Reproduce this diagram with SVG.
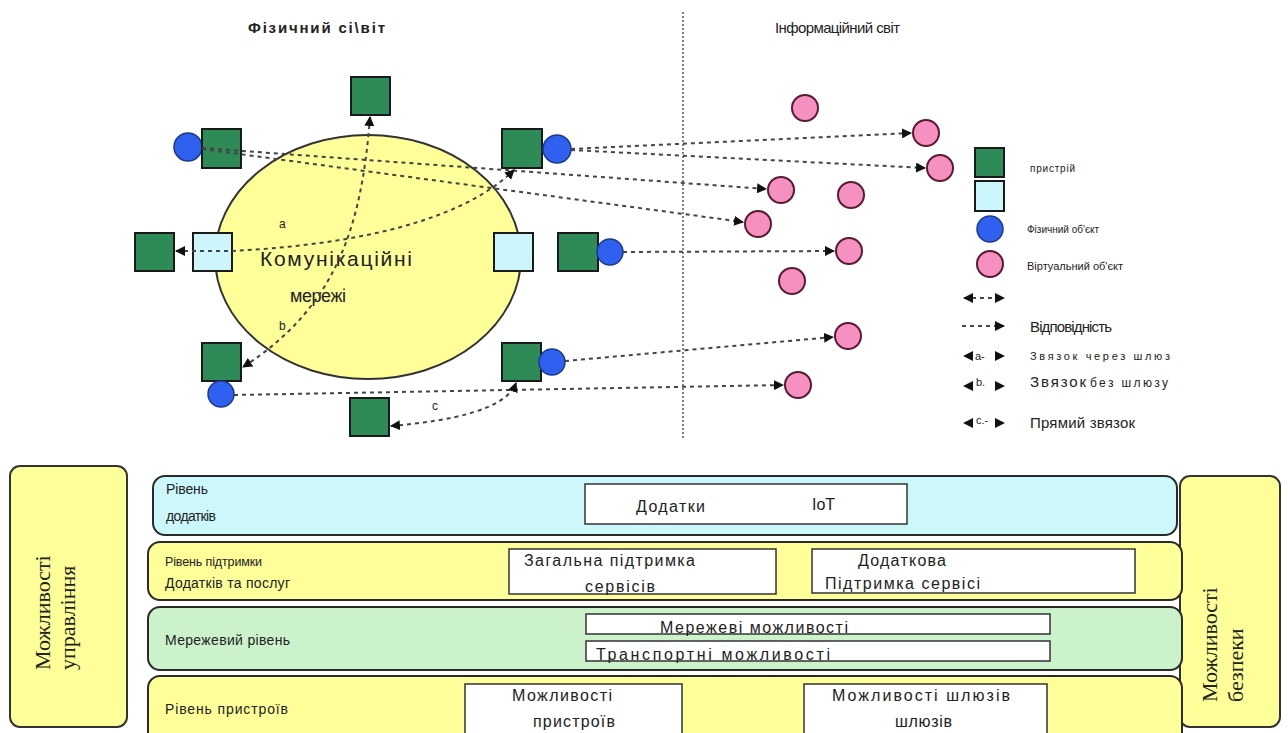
<svg xmlns="http://www.w3.org/2000/svg" width="1288" height="733" viewBox="0 0 1288 733">
<defs>
<marker id="ah" viewBox="0 0 10 10" refX="9" refY="5" markerWidth="10" markerHeight="10" markerUnits="userSpaceOnUse" orient="auto-start-reverse">
<path d="M0,0 L10,5 L0,10 Z" fill="#111"/>
</marker>
<style>
.dev{fill:#2e8b57;stroke:#1a1a1a;stroke-width:2}
.gw{fill:#ccf6fb;stroke:#1a1a1a;stroke-width:2}
.phy{fill:#3060f0;stroke:#1a3a90;stroke-width:1.5}
.vir{fill:#f690c0;stroke:#5a1a30;stroke-width:2}
.cn{fill:none;stroke:#444;stroke-width:2;stroke-dasharray:4 4}
.t{font-family:"Liberation Sans",Arial,sans-serif;fill:#222}
.s{font-family:"Liberation Serif","Times New Roman",serif;fill:#222}
.layer{stroke:#2a2a2a;stroke-width:2}
.box{fill:#fff;stroke:#333;stroke-width:1.5}
</style>
</defs>
<rect width="1288" height="733" fill="#fff"/>

<!-- titles -->
<text class="t" x="248" y="33" font-size="15" font-weight="bold" textLength="137">Фізичний сі\віт</text>
<text class="t" x="775" y="33" font-size="15" textLength="125">Інформаційний світ</text>
<line x1="683" y1="12" x2="683" y2="438" stroke="#555" stroke-width="1.5" stroke-dasharray="2 2"/>

<!-- network -->
<g id="network">
<ellipse cx="368" cy="257" rx="153" ry="122" fill="#ffff99" stroke="#333" stroke-width="2"/>
<text class="t" x="260" y="266" font-size="21" textLength="152">Комунікаційні</text>
<text class="t" x="290" y="302" font-size="18" textLength="56">мережі</text>
</g>

<!-- devices -->
<g id="dev-top"><rect class="dev" x="351" y="77" width="39" height="38"/></g>
<g id="dev-lt"><circle class="phy" cx="188" cy="147" r="14"/><rect class="dev" x="202" y="129" width="39" height="39"/></g>
<g id="dev-l"><rect class="dev" x="135" y="233" width="39" height="38"/></g>
<g id="gw-l"><rect class="gw" x="193" y="233" width="39" height="38"/></g>
<g id="gw-r"><rect class="gw" x="494" y="233" width="39" height="38"/></g>
<g id="dev-rt"><rect class="dev" x="502" y="129" width="40" height="39"/><circle class="phy" cx="557" cy="149" r="14"/></g>
<g id="dev-rm"><rect class="dev" x="558" y="233" width="40" height="38"/><circle class="phy" cx="610" cy="252" r="13"/></g>
<g id="dev-lb"><rect class="dev" x="202" y="343" width="39" height="38"/><circle class="phy" cx="221" cy="394" r="13"/></g>
<g id="dev-rb"><rect class="dev" x="502" y="343" width="39" height="38"/><circle class="phy" cx="552" cy="362" r="13"/></g>
<g id="dev-b"><rect class="dev" x="350" y="398" width="39" height="38"/></g>

<!-- virtual objects -->
<g id="virtual">
<circle class="vir" cx="805" cy="108" r="13"/>
<circle class="vir" cx="926" cy="133" r="13"/>
<circle class="vir" cx="940" cy="168" r="13"/>
<circle class="vir" cx="781" cy="190" r="13"/>
<circle class="vir" cx="851" cy="195" r="13"/>
<circle class="vir" cx="758" cy="224" r="13"/>
<circle class="vir" cx="849" cy="251" r="13"/>
<circle class="vir" cx="792" cy="281" r="13"/>
<circle class="vir" cx="848" cy="336" r="13"/>
<circle class="vir" cx="798" cy="385" r="13"/>
</g>

<!-- connectors -->
<g id="connectors">
<path class="cn" d="M202,148 L766,189" marker-end="url(#ah)"/>
<path class="cn" d="M202,149 L743,222" marker-end="url(#ah)"/>
<path class="cn" d="M571,149 L911,133" marker-end="url(#ah)"/>
<path class="cn" d="M571,150 L925,168" marker-end="url(#ah)"/>
<path class="cn" d="M623,252 L834,251" marker-end="url(#ah)"/>
<path class="cn" d="M565,361 L833,337" marker-end="url(#ah)"/>
<path class="cn" d="M234,395 L783,385" marker-end="url(#ah)"/>
<path class="cn" d="M176,251 L232,251 C 330,246 455,228 514,170" marker-start="url(#ah)" marker-end="url(#ah)"/>
<path class="cn" d="M370,117 C 362,220 340,305 243,367" marker-start="url(#ah)" marker-end="url(#ah)"/>
<path class="cn" d="M391,426 C 450,421 506,410 516,383" marker-start="url(#ah)" marker-end="url(#ah)"/>
<text class="t" x="279" y="228" font-size="12">a</text>
<text class="t" x="279" y="330" font-size="12">b</text>
<text class="t" x="432" y="410" font-size="12">c</text>
</g>

<!-- legend -->
<g id="legend">
<rect class="dev" x="975" y="148" width="29" height="29"/>
<rect class="gw" x="975" y="181" width="29" height="30"/>
<circle class="phy" cx="990" cy="229" r="13"/>
<circle class="vir" cx="990" cy="264" r="13"/>
<text class="t" x="1030" y="172" font-size="10" textLength="45">пристрій</text>
<text class="t" x="1027" y="233" font-size="10">Фізичний об'єкт</text>
<text class="t" x="1027" y="270" font-size="11">Віртуальний об'єкт</text>
<path class="cn" d="M964,298 L1004,298" stroke-width="1.5" stroke-dasharray="3 3" marker-start="url(#ah)" marker-end="url(#ah)"/>
<path class="cn" d="M962,326 L1004,326" stroke-width="1.5" stroke-dasharray="3 3" marker-end="url(#ah)"/>
<text class="t" x="1030" y="332" font-size="15" textLength="82">Відповідність</text>
<path d="M963,356 L973,351 L973,361 Z" fill="#111"/>
<text class="t" x="975" y="360" font-size="11">a-</text>
<path d="M1005,356 L995,351 L995,361 Z" fill="#111"/>
<text class="t" x="1030" y="360" font-size="11" textLength="140">Звязок через шлюз</text>
<path d="M963,386 L973,381 L973,391 Z" fill="#111"/>
<text class="t" x="976" y="386" font-size="11">b.</text>
<path d="M1005,386 L995,381 L995,391 Z" fill="#111"/>
<text class="t" x="1030" y="387" font-size="15" textLength="56">Звязок</text>
<text class="t" x="1090" y="387" font-size="12" textLength="78">без шлюзу</text>
<path d="M963,423 L973,418 L973,428 Z" fill="#111"/>
<text class="t" x="976" y="424" font-size="11">c.-</text>
<path d="M1005,423 L995,418 L995,428 Z" fill="#111"/>
<text class="t" x="1030" y="428" font-size="15" textLength="105">Прямий звязок</text>
</g>

<!-- side panels -->
<g id="mgmt">
<rect x="10" y="466" width="117" height="261" rx="10" fill="#ffff99" stroke="#333" stroke-width="2"/>
<text class="s" font-size="22" transform="translate(50,670) rotate(-90)">Можливості</text>
<text class="s" font-size="22" transform="translate(75,670) rotate(-90)">управління</text>
</g>
<g id="security">
<rect x="1180" y="476" width="100" height="251" rx="10" fill="#ffff99" stroke="#333" stroke-width="2"/>
<text class="s" font-size="22" transform="translate(1217,702) rotate(-90)">Можливості</text>
<text class="s" font-size="22" transform="translate(1243,702) rotate(-90)">безпеки</text>
</g>

<!-- layers -->
<g id="layer-app">
<rect class="layer" x="153" y="476" width="1024" height="59" rx="12" fill="#ccf8fc"/>
<text class="t" x="166" y="494" font-size="14" textLength="42">Рівень</text>
<text class="t" x="166" y="521" font-size="14" textLength="50">додатків</text>
<rect class="box" x="585" y="484" width="322" height="40"/>
<text class="t" x="636" y="512" font-size="16" textLength="69">Додатки</text>
<text class="t" x="812" y="510" font-size="16" textLength="23">IoT</text>
</g>
<g id="layer-support">
<rect class="layer" x="148" y="542" width="1034" height="58" rx="12" fill="#ffff99"/>
<text class="t" x="165" y="566" font-size="12.5" textLength="97">Рівень підтримки</text>
<text class="t" x="165" y="588" font-size="14" textLength="125">Додатків та послуг</text>
<rect class="box" x="509" y="549" width="267" height="45"/>
<text class="t" x="524" y="566" font-size="16" textLength="171">Загальна підтримка</text>
<text class="t" x="585" y="592" font-size="16" textLength="70">сервісів</text>
<rect class="box" x="812" y="549" width="323" height="44"/>
<text class="t" x="858" y="566" font-size="16" textLength="88">Додаткова</text>
<text class="t" x="825" y="589" font-size="16" textLength="155">Підтримка сервісі</text>
</g>
<g id="layer-net">
<rect class="layer" x="148" y="607" width="1034" height="63" rx="12" fill="#ccf2cc"/>
<text class="t" x="165" y="645" font-size="14" textLength="125">Мережевий рівень</text>
<rect class="box" x="586" y="614" width="464" height="20"/>
<text class="t" x="660" y="633" font-size="16" textLength="188">Мережеві можливості</text>
<rect class="box" x="586" y="641" width="464" height="20"/>
<text class="t" x="596" y="660" font-size="16" textLength="234">Транспортні можливості</text>
</g>
<g id="layer-dev">
<rect class="layer" x="148" y="676" width="1034" height="70" rx="12" fill="#ffff99"/>
<text class="t" x="165" y="714" font-size="14" textLength="123">Рівень пристроїв</text>
<rect class="box" x="465" y="684" width="217" height="60"/>
<text class="t" x="512" y="701" font-size="16" textLength="100">Можливості</text>
<text class="t" x="533" y="727" font-size="16" textLength="82">пристроїв</text>
<rect class="box" x="804" y="684" width="243" height="60"/>
<text class="t" x="832" y="701" font-size="16" textLength="178">Можливості шлюзів</text>
<text class="t" x="895" y="727" font-size="16" textLength="57">шлюзів</text>
</g>
</svg>
